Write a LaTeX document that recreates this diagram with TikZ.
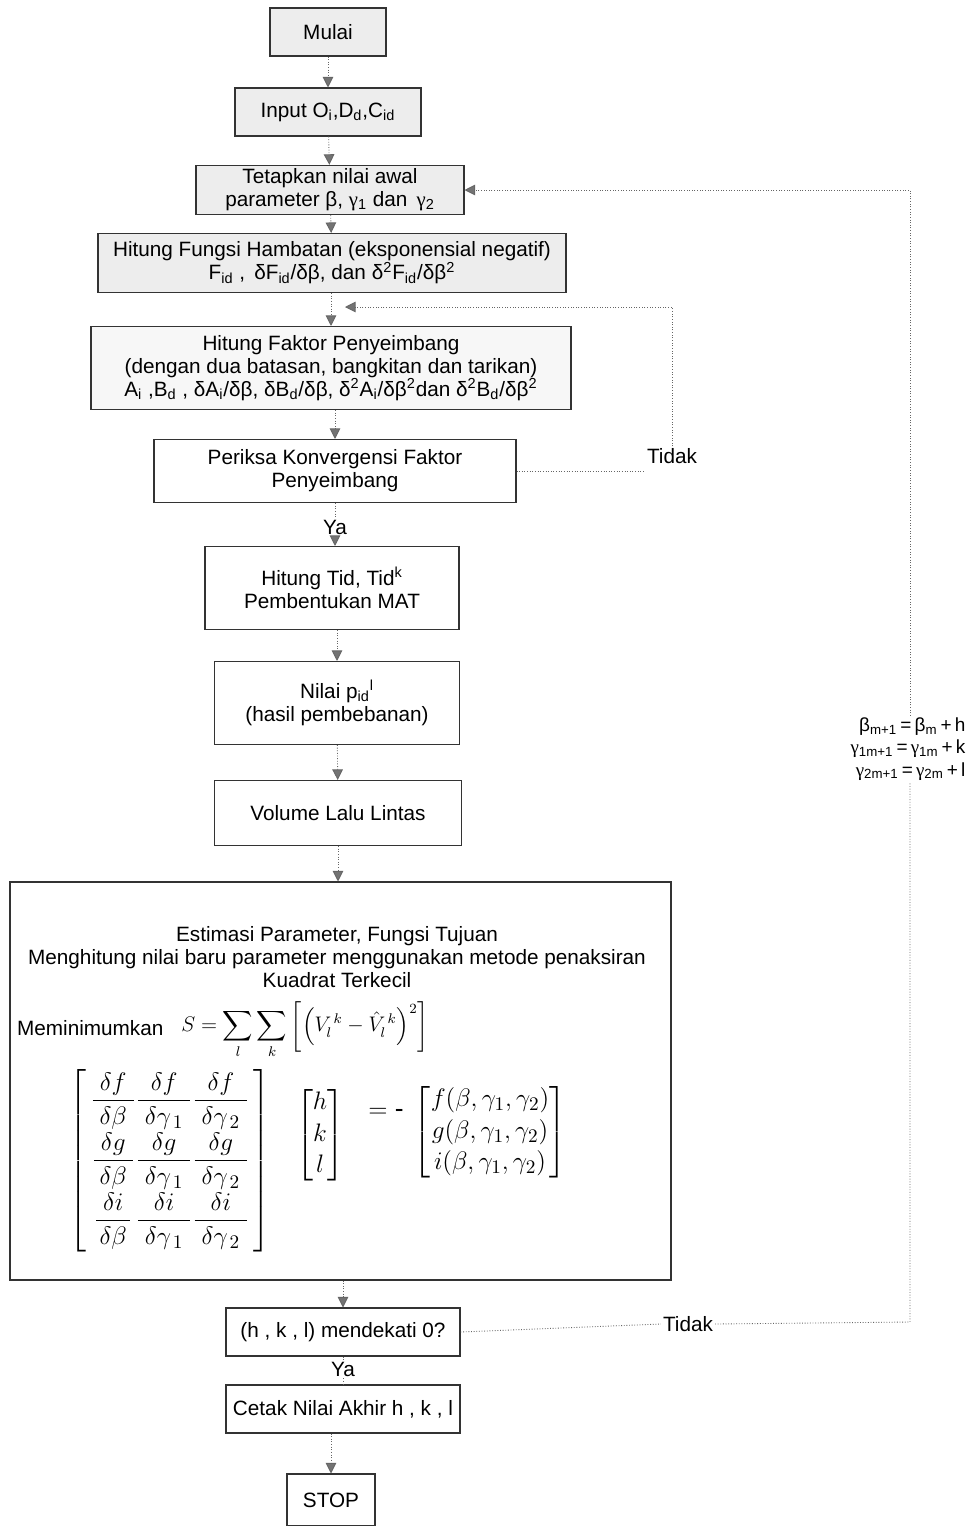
\documentclass[tikz,border=0pt]{standalone}
\usepackage{amsmath}
\usepackage{fontspec}
\setmainfont{Liberation Sans}
\newfontfamily\serifgr{Liberation Serif}
\usetikzlibrary{arrows.meta,calc}
\newcommand{\gam}{{\serifgr γ}}
\def\pxu{0.02cm}
\tikzset{
  box/.style={draw=black!80, line width=0.6pt, align=center, inner sep=2pt,
    font=\fontsize{11.8}{13}\selectfont},
  shaded/.style={fill=gray!14},
  wh/.style 2 args={minimum width={#1*\pxu}, minimum height={#2*\pxu}},
  conn/.style={draw=black!60, line width=0.5pt, densely dotted},
  arr/.style={conn, -{Triangle[length=6pt,width=6pt,fill=black!55]}},
  lbl/.style={font=\fontsize{11.8}{13}\selectfont, inner sep=1pt},
}
\begin{document}
\begin{tikzpicture}[x=0.02cm,y=-0.02cm]
\useasboundingbox (0,0) rectangle (973,1526);
\fill[white] (0,0) rectangle (973,1526);

% main column
\node[box,shaded,wh={116}{48}] (mulai) at (328,32) {Mulai};
\node[box,shaded,wh={186}{48}] (input) at (328,112) {Input O\textsubscript{i},D\textsubscript{d},C\textsubscript{id}};
\node[box,shaded,wh={268}{45}] (tet) at (330,190) {Tetapkan nilai awal\\parameter β, \gam\textsubscript{1} dan \,\gam\textsubscript{2}};
\node[box,shaded,wh={468}{59}] (fungsi) at (332,263) {Hitung Fungsi Hambatan (eksponensial negatif)\\F\textsubscript{id} ,\, δF\textsubscript{id}/δβ, dan δ\textsuperscript{2}F\textsubscript{id}/δβ\textsuperscript{2}};
\node[box,fill=gray!6,wh={480}{83}] (faktor) at (331,368) {Hitung Faktor Penyeimbang\\(dengan dua batasan, bangkitan dan tarikan)\\A\textsubscript{i} ,B\textsubscript{d} , δA\textsubscript{i}/δβ, δB\textsubscript{d}/δβ, δ\textsuperscript{2}A\textsubscript{i}/δβ\textsuperscript{2}dan δ\textsuperscript{2}B\textsubscript{d}/δβ\textsuperscript{2}};
\node[box,wh={362}{63}] (per) at (335,471) {Periksa Konvergensi Faktor\\Penyeimbang};
\node[lbl] (ya1) at (335,527) {Ya};
\node[box,wh={254}{83}] (tid) at (332,588) {Hitung Tid, Tid\textsuperscript{k}\\Pembentukan MAT};
\node[box,wh={245}{83}] (nilai) at (337,703) {Nilai p\textsubscript{id}\textsuperscript{l}\\(hasil pembebanan)};
\node[box,wh={247}{65}] (vol) at (338,813) {Volume Lalu Lintas};

% estimation box
\node[draw=black!80, line width=0.6pt, wh={661}{398}] (est) at (340.5,1081) {};
\node[lbl, align=center] (esttxt) at (337,957) {Estimasi Parameter, Fungsi Tujuan\\Menghitung nilai baru parameter menggunakan metode penaksiran\\Kuadrat Terkecil};
\node[lbl, anchor=west] (minim) at (15,1028) {Meminimumkan};
\node[inner sep=0pt] (sform) at (305,1030) {\fontsize{11.5}{14}\selectfont $S=\displaystyle\sum_{l}\sum_{k}\left[\left(V_l^{\,k}-\hat{V}_l^{\,k}\right)^{2}\right]$};
\node[inner sep=0pt] (jac) at (170,1161) {\fontsize{15}{18}\selectfont $\left[\begin{array}{@{\,}c@{}c@{}c@{\,}}
\dfrac{\;\delta f\;}{\delta\beta} & \dfrac{\delta f}{\;\delta\gamma_{\,1}\;} & \dfrac{\delta f}{\;\delta\gamma_{\,2}\;}\\[9pt]
\dfrac{\;\delta g\;}{\delta\beta} & \dfrac{\delta g}{\;\delta\gamma_{\,1}\;} & \dfrac{\delta g}{\;\delta\gamma_{\,2}\;}\\[9pt]
\dfrac{\;\delta i\;}{\delta\beta} & \dfrac{\delta i}{\;\delta\gamma_{\,1}\;} & \dfrac{\delta i}{\;\delta\gamma_{\,2}\;}
\end{array}\right]$};
\node[inner sep=0pt] (hkl) at (320,1135) {\fontsize{15}{18}\selectfont $\begin{bmatrix} h\\ k\\ l\end{bmatrix}$};
\node[inner sep=0pt] (eq) at (386,1113) {\fontsize{15}{18}\selectfont $=$ -};
\node[inner sep=0pt] (fgi) at (490,1132) {\fontsize{15}{18}\selectfont $\begin{bmatrix} f(\beta,\gamma_1,\gamma_2)\\ g(\beta,\gamma_1,\gamma_2)\\ i(\beta,\gamma_1,\gamma_2)\end{bmatrix}$};

\node[box,wh={234}{48}] (dek) at (343,1332) {(h , k , l) mendekati 0?};
\node[lbl] (ya2) at (343,1369) {Ya};
\node[box,wh={234}{48}] (cetak) at (343,1409) {Cetak Nilai Akhir h , k , l};
\node[box,wh={88}{52}] (stop) at (331,1500) {STOP};

% right-hand labels
\node[lbl] (tidak1) at (672,456) {Tidak};
\node[lbl, fill=white] (tidak2) at (688,1324) {Tidak};
\node[fill=white, inner sep=1pt, align=right, font=\fontsize{10.8}{12.6}\selectfont] (upd) at (908,749) {β\textsubscript{m+1}\,=\,β\textsubscript{m}\,+\,h\\ \gam\textsubscript{1m+1}\,=\,\gam\textsubscript{1m}\,+\,k\\ \gam\textsubscript{2m+1}\,=\,\gam\textsubscript{2m}\,+\,l};
\coordinate (r1) at (910,1322);
\coordinate (r2) at (910,190);
\coordinate (l1) at (672,307);
\coordinate (l2) at (345,307);

% connectors
\draw[arr] (mulai) -- (input);
\draw[arr] (input) -- (tet);
\draw[arr] (tet) -- (fungsi);
\draw[arr] (fungsi.south -| faktor.north) -- (faktor.north);
\draw[arr] (faktor.south -| per.north) -- (per.north);
\draw[conn] (per.south -| ya1.north) -- (ya1.north);
\draw[arr] (ya1.south) -- (ya1.south |- tid.north);
\draw[arr] (tid.south -| nilai.north) -- (nilai.north);
\draw[arr] (nilai) -- (vol);
\draw[arr] (vol.south) -- (vol.south |- est.north);
\draw[arr] (est.south -| dek.north) -- (dek.north);
\draw[conn] (dek.south -| ya2.north) -- (ya2.north);
\draw[conn] (ya2.south) -- (cetak.north);
\draw[arr] (cetak.south -| stop.north) -- (stop.north);

\draw[conn] (per.east) -- (per.east -| tidak1.west);
\draw[arr] (tidak1.north) -- (l1) -- (l2);
\draw[conn] (dek.east) -- (tidak2.west);
\draw[conn] (tidak2.east) -- (r1) -- (upd.south -| r1);
\draw[arr] (upd.north -| r2) -- (r2) -- (tet.east);
\end{tikzpicture}
\end{document}
